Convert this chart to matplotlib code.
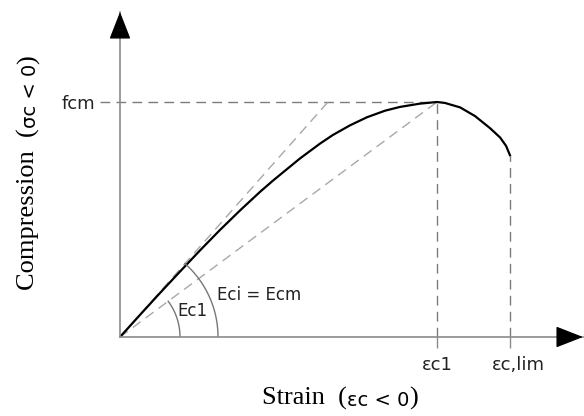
import numpy as np
import matplotlib.pyplot as plt
from matplotlib.transforms import ScaledTranslation

# normalised curve: strain / eps_c1 and stress / fcm
strain = [0.0, 0.063, 0.126, 0.189, 0.252, 0.315, 0.379, 0.442, 0.483, 0.568, 0.631,
          0.672, 0.726, 0.779, 0.836, 0.883, 0.946, 1.0, 1.025, 1.073, 1.120, 1.167,
          1.199, 1.218, 1.230]
stress = [0.0, 0.094, 0.187, 0.278, 0.368, 0.455, 0.539, 0.618, 0.666, 0.760, 0.823,
          0.860, 0.901, 0.935, 0.963, 0.979, 0.993, 1.0, 0.996, 0.977, 0.940, 0.889,
          0.849, 0.813, 0.774]

fcm = 1.0
eps_c1 = 1.0
eps_lim = 1.23
eps_ecm = 0.656   # strain where the Ecm tangent reaches fcm

x_ticks = [eps_c1, eps_lim]
x_labels = ['εc1', 'εc,lim']
y_ticks = [fcm]
y_labels = ['fcm']

W, H = 584, 416
ox, oy = 120, 337          # origin in pixels
ux, uy = 317, 235          # pixels per unit
xmax = (583 - ox) / ux
ymax = (oy - 12) / uy

axis_grey = '#8a8a8a'
dash_grey = '#7c7c7c'
light_grey = '#a8a8a8'
text_col = '#222222'
sans = 'DejaVu Sans'
serif = 'Liberation Serif'

fig = plt.figure(figsize=(W / 100, H / 100), dpi=100)
ax = fig.add_axes([ox / W, (H - oy) / H, (583 - ox) / W, (oy - 12) / H])
ax.set_xlim(0, xmax)
ax.set_ylim(0, ymax)
for s in ['top', 'right']:
    ax.spines[s].set_visible(False)
for s in ['left', 'bottom']:
    ax.spines[s].set_color(axis_grey)
    ax.spines[s].set_linewidth(1.2)

ax.set_xticks(x_ticks, x_labels, fontsize=13, family=sans, color=text_col)
ax.set_yticks(y_ticks, y_labels, fontsize=13, family=sans, color=text_col)
ax.tick_params(axis='x', direction='out', length=8, width=1, color=axis_grey, pad=6)
ax.tick_params(axis='y', length=0, pad=18)
lim_lab = ax.get_xticklabels()[1]
lim_lab.set_transform(lim_lab.get_transform() + ScaledTranslation(8 / 100, 0, fig.dpi_scale_trans))

# guide lines
ax.plot([-20 / ux, eps_c1], [fcm, fcm], color=dash_grey, lw=1, dashes=(7, 4.5), clip_on=False)
ax.plot([eps_c1, eps_c1], [0, fcm], color=dash_grey, lw=1, dashes=(7, 4.5))
ax.plot([eps_lim, eps_lim], [0, stress[-1]], color=dash_grey, lw=1, dashes=(7, 4.5))
ax.plot([0, eps_ecm], [0, fcm], color=light_grey, lw=1, dashes=(7, 4.5))
ax.plot([0, eps_c1], [0, fcm], color=light_grey, lw=1, dashes=(7, 4.5))

# curve
ax.plot(strain, stress, color='black', lw=1.6, solid_joinstyle='round')

# angle arcs (circles in pixel space)
for r, xe in [(60, eps_c1), (98, eps_ecm)]:
    th = np.linspace(0, np.arctan2(fcm * uy, xe * ux), 60)
    ax.plot(r * np.cos(th) / ux, r * np.sin(th) / uy, color='#777777', lw=1)

ax.text(0.227, 0.111, 'Ec1', fontsize=12, family=sans, color=text_col, ha='center', va='center')
ax.text(0.306, 0.179, 'Eci = Ecm', fontsize=12, family=sans, color=text_col, ha='left', va='center')

# axis arrows
head = dict(arrowstyle='-|>,head_length=1.15,head_width=0.45', color='black', lw=1,
            shrinkA=0, shrinkB=0, mutation_scale=15)
ax.annotate('', xy=(0, 1), xytext=(0, 1 - 23 / 325), xycoords='axes fraction',
            arrowprops=head, annotation_clip=False)
ax.annotate('', xy=(1, 0), xytext=(1 - 23 / 463, 0), xycoords='axes fraction',
            arrowprops=head, annotation_clip=False)

# axis titles, mixed serif / sans like the sketch
t = fig.text(262 / W, (H - 405) / H, 'Strain  (', family=serif, fontsize=19, va='baseline')
t = ax.annotate('εc < 0', xy=(1, 0), xycoords=t, family=sans, fontsize=14, va='bottom')
ax.annotate(')', xy=(1, 0), xycoords=t, family=serif, fontsize=19, va='bottom')

t = fig.text(40 / W, (H - 290) / H, 'Compression  (', family=serif, fontsize=19,
             rotation=90, ha='right', va='bottom')
t = ax.annotate('σc < 0', xy=(1, 1), xycoords=t, family=sans, fontsize=14,
                rotation=90, ha='right', va='bottom')
ax.annotate(')', xy=(1, 1), xycoords=t, family=serif, fontsize=19,
            rotation=90, ha='right', va='bottom')

plt.savefig('out.png', dpi=100)
